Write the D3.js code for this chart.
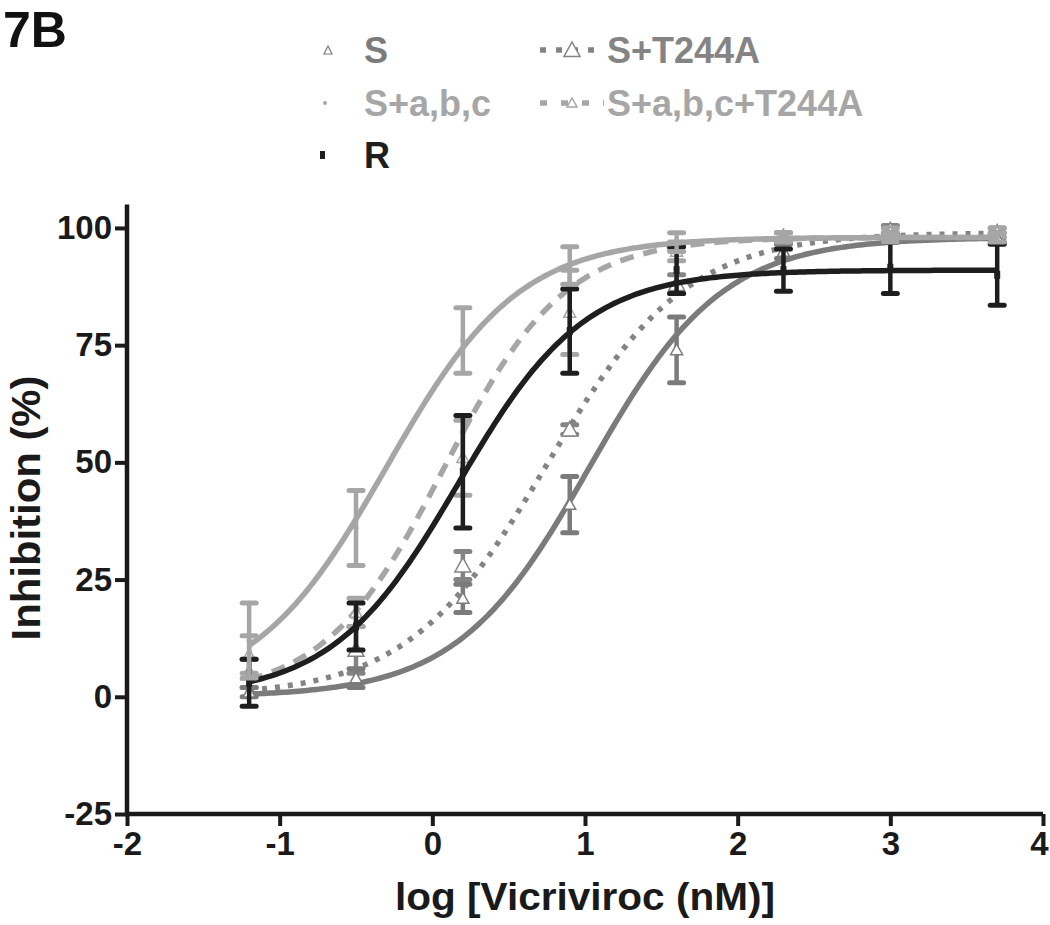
<!DOCTYPE html>
<html><head><meta charset="utf-8">
<script src="https://cdn.jsdelivr.net/npm/d3@7"></script>
<style>
body{margin:0;background:#fff}
text{font-family:"Liberation Sans",Arial,Helvetica,sans-serif;font-weight:bold}
</style>
</head><body>
<svg id="chart" width="1050" height="925"></svg>
<script>
// ---------- data ----------
const seriesNames = ["S", "S+a,b,c", "R", "S+T244A", "S+a,b,c+T244A"];
const xValues = [-1.2, -0.5, 0.2, 0.9, 1.6, 2.3, 3.0, 3.7];

const meanS      = [1, 4, 21, 41, 74, 95, 98, 98];
const errS       = [1, 2, 3, 6, 7, 1.5, 1, 1];
const meanSabc   = [12, 36, 76, 92, 97, 98, 98, 98];
const errSabc    = [8, 8, 7, 4, 2, 1, 1, 1];
const meanR      = [3, 15, 48, 78, 91, 91, 91.5, 90];
const errR       = [5, 5, 12, 9, 5, 4.5, 5.5, 6.5];
const meanST     = [5, 10, 28, 57, 88, 98, 99.5, 99];
const errST      = [3, 5, 3, 1, 2, 1, 1, 1];
const meanSabcT  = [9, 18, 51, 82, 95, 98, 99, 99];
const errSabcT   = [4, 3, 8, 9, 2, 1, 1, 1];

// fitted dose-response (4PL) parameters
const fitBottom  = [0, 0, 0, 0, 0];
const fitTop     = [98, 98, 91, 99, 98];
const fitLogEC50 = [1.03, -0.3, 0.17, 0.75, 0.08];
const fitHill    = [1.0, 1.0, 1.05, 0.95, 1.1];

const xTicks = [-2, -1, 0, 1, 2, 3, 4];
const yTicks = [-25, 0, 25, 50, 75, 100];

// ---------- styles ----------
const colors   = ["#7b7b7b", "#a6a6a6", "#1e1e1e", "#848484", "#a6a6a6"];
const dashes   = [null, null, null, "5,8", "14,10"];
const markers  = ["tri", "dot", "sq", "tribig", "tri"];

const svg = d3.select("#chart");
const x = d3.scaleLinear().domain([-2, 4]).range([127, 1043]);
const y = d3.scaleLinear().domain([-25, 105]).range([814, 204.5]);

const means = [meanS, meanSabc, meanR, meanST, meanSabcT];
const errs  = [errS, errSabc, errR, errST, errSabcT];

function fit4pl(i, lx) {
  return fitBottom[i] + (fitTop[i] - fitBottom[i]) / (1 + Math.pow(10, (fitLogEC50[i] - lx) * fitHill[i]));
}
const xs = d3.range(xValues[0], xValues[xValues.length - 1] + 0.0001, 0.02);

function drawMarker(g, type, cx, cy, c) {
  if (type === "tribig") {
    const s = 8;
    g.append("path").attr("d", `M${cx},${cy - s}L${cx + s},${cy + s * 0.8}L${cx - s},${cy + s * 0.8}Z`)
      .attr("fill", "#fff").attr("stroke", c).attr("stroke-width", 1.5);
  } else if (type === "tri") {
    const s = 6;
    g.append("path").attr("d", `M${cx},${cy - s}L${cx + s},${cy + s * 0.8}L${cx - s},${cy + s * 0.8}Z`)
      .attr("fill", "#fff").attr("stroke", c).attr("stroke-width", 1.5);
  } else if (type === "dot") {
    g.append("circle").attr("cx", cx).attr("cy", cy).attr("r", 2.5).attr("fill", c);
  } else if (type === "sq") {
    g.append("rect").attr("x", cx - 3).attr("y", cy - 4).attr("width", 6).attr("height", 8).attr("fill", c);
  }
}

const drawOrder = [3, 4, 0, 2, 1];
drawOrder.forEach(i => {
  const g = svg.append("g");
  const c = colors[i];
  // error bars
  xValues.forEach((xv, k) => {
    const m = means[i][k], e = errs[i][k];
    g.append("line").attr("x1", x(xv)).attr("x2", x(xv))
      .attr("y1", y(m - e)).attr("y2", y(m + e))
      .attr("stroke", c).attr("stroke-width", 4.5);
    [m - e, m + e].forEach(v => {
      g.append("line").attr("x1", x(xv) - 7).attr("x2", x(xv) + 7)
        .attr("y1", y(v)).attr("y2", y(v))
        .attr("stroke", c).attr("stroke-width", 5).attr("stroke-linecap", "round");
    });
  });
  // curve
  const line = d3.line().x(d => x(d)).y(d => y(fit4pl(i, d)));
  g.append("path").attr("d", line(xs)).attr("fill", "none")
    .attr("stroke", c).attr("stroke-width", 5.5)
    .attr("stroke-dasharray", dashes[i]);
  // markers
  xValues.forEach((xv, k) => drawMarker(g, markers[i], x(xv), y(means[i][k]), c));
});

// ---------- axes ----------
const xAxis = d3.axisBottom(x).tickValues(xTicks).tickSize(12).tickPadding(6).tickSizeOuter(0);
const gx = svg.append("g").attr("transform", "translate(0,814)").call(xAxis);
const yAxis = d3.axisLeft(y).tickValues(yTicks).tickSize(12).tickPadding(3).tickSizeOuter(0);
const gy = svg.append("g").attr("transform", "translate(127,0)").call(yAxis);
[gx, gy].forEach(g => {
  g.select(".domain").attr("stroke", "#1a1a1a").attr("stroke-width", 4.5);
  g.selectAll(".tick line").attr("stroke", "#1a1a1a").attr("stroke-width", 4);
  g.selectAll(".tick text").attr("fill", "#1a1a1a").style("font-size", "33px")
    .style("font-family", "'Liberation Sans',Arial,sans-serif").style("font-weight", "bold");
});
gx.selectAll(".tick text").text(d => d < 0 ? "-" + Math.abs(d) : d)
  .attr("dx", d => d === 4 ? -4 : 0);
gy.selectAll(".tick text").text(d => d < 0 ? "-" + Math.abs(d) : d);
gx.select(".domain").attr("d", `M${x(-2) - 2},0H${x(4)}`);
gy.select(".domain").attr("d", `M0,${y(105)}V${y(-25) + 2}`);

// axis titles
svg.append("text").attr("x", 585).attr("y", 910).attr("text-anchor", "middle")
  .style("font-size", "38px").attr("fill", "#1a1a1a")
  .attr("textLength", 380).attr("lengthAdjust", "spacingAndGlyphs")
  .text("log [Vicriviroc (nM)]");
svg.append("text").attr("transform", "translate(40,508) rotate(-90)").attr("text-anchor", "middle")
  .style("font-size", "40px").attr("fill", "#1a1a1a")
  .attr("textLength", 265).attr("lengthAdjust", "spacingAndGlyphs")
  .text("Inhibition (%)");

// panel label
svg.append("text").attr("x", 3).attr("y", 47).style("font-size", "50px").attr("fill", "#111")
  .text("7B");

// ---------- legend ----------
const legendLeft = [0, 1, 2];
const legendRight = [3, 4];
const legRowY = [50, 103, 155];
legendLeft.forEach((i, r) => {
  const cy = legRowY[r];
  if (markers[i] === "tri") {
    const s = 4;
    svg.append("path").attr("d", `M328,${cy - s}L${328 + s},${cy + s}L${328 - s},${cy + s}Z`)
      .attr("fill", "#fff").attr("stroke", colors[i]).attr("stroke-width", 1.2);
  } else if (markers[i] === "dot") {
    svg.append("circle").attr("cx", 325).attr("cy", cy).attr("r", 2).attr("fill", colors[i]);
  } else {
    svg.append("rect").attr("x", 320).attr("y", cy - 4).attr("width", 5).attr("height", 8).attr("fill", colors[i]);
  }
  svg.append("text").attr("x", 364).attr("y", cy + 13).style("font-size", "36px")
    .attr("fill", colors[i]).text(seriesNames[i]);
});
legendRight.forEach((i, r) => {
  const cy = legRowY[r];
  svg.append("line").attr("x1", 540).attr("x2", 604).attr("y1", cy).attr("y2", cy)
    .attr("stroke", colors[i]).attr("stroke-width", 5.5)
    .attr("stroke-dasharray", i === 3 ? "6,10" : "7,14");
  const s = i === 3 ? 8 : 5;
  svg.append("path").attr("d", `M572,${cy - s}L${572 + s},${cy + s * 0.8}L${572 - s},${cy + s * 0.8}Z`)
    .attr("fill", "#fff").attr("stroke", colors[i]).attr("stroke-width", 1.5);
  svg.append("text").attr("x", 607).attr("y", cy + 13).style("font-size", "36px")
    .attr("fill", colors[i]).text(seriesNames[i]);
});
</script>
</body></html>
